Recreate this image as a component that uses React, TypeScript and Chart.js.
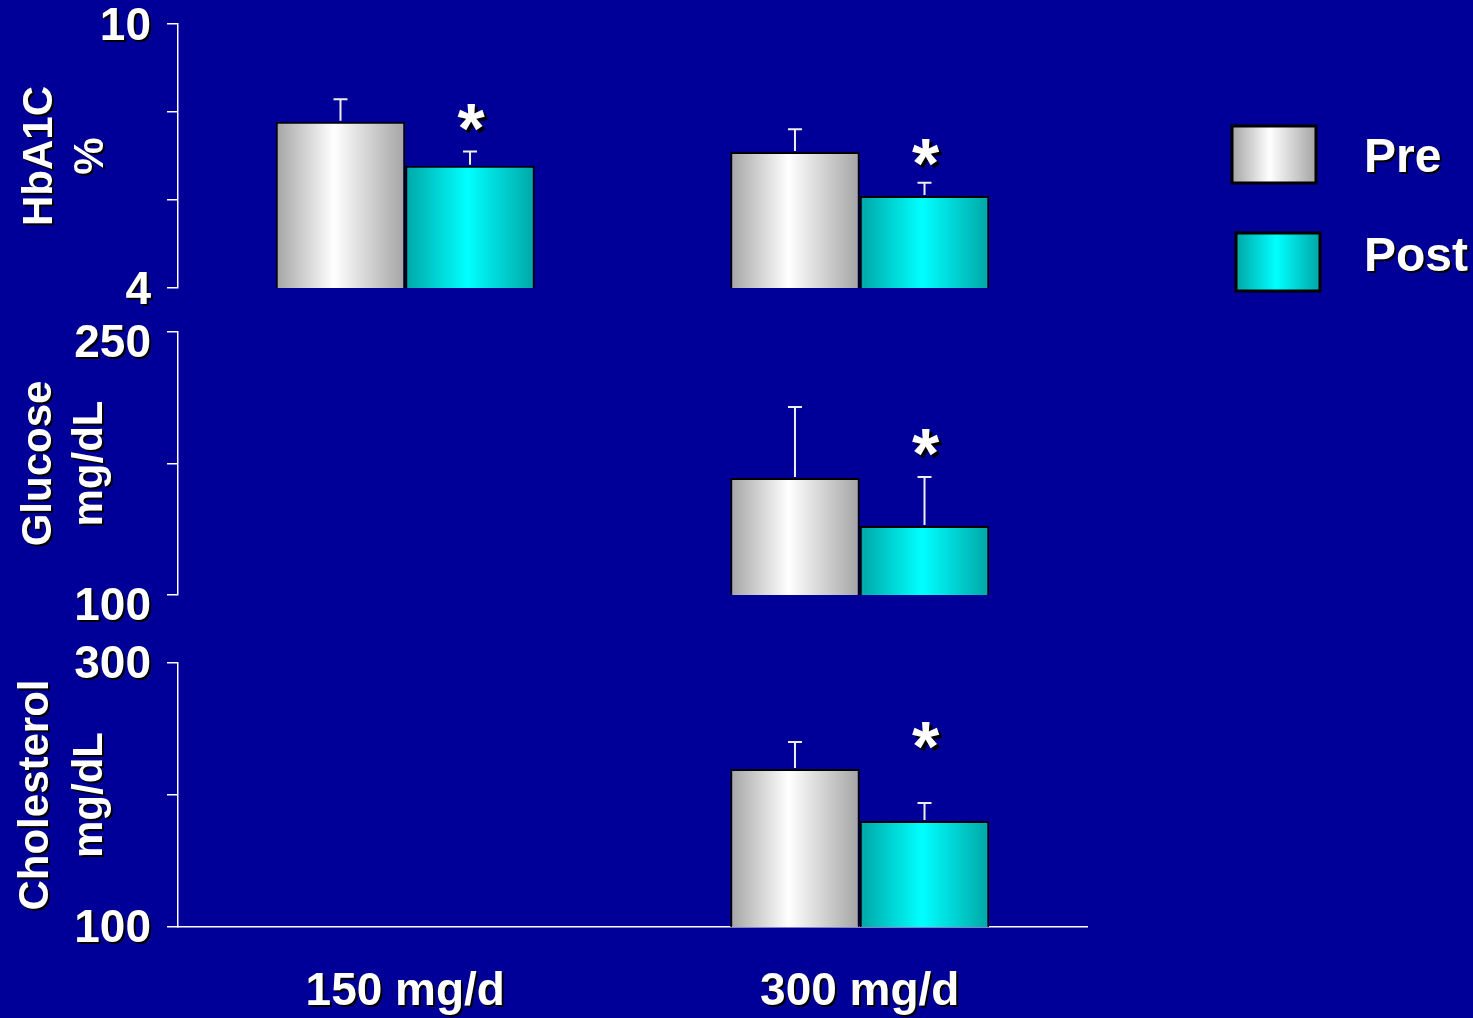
import React, { useEffect, useRef } from 'react';
import { Chart, registerables } from 'chart.js';

Chart.register(...registerables);

// ---------------- DATA ----------------
const categories = ['150 mg/d', '300 mg/d'];
const seriesNames = ['Pre', 'Post'];

const hbPre = [7.78, 7.09];
const hbPreSd = [0.51, 0.52];
const hbPost = [6.78, 6.09];
const hbPostSd = [0.32, 0.3];
const hbStar = [7.9, 7.09];

const gluPre = [null, 166.7];
const gluPreSd = [null, 40.5];
const gluPost = [null, 139.4];
const gluPostSd = [null, 27.9];
const gluStar = [null, 187.5];

const cholPre = [null, 219.7];
const cholPreSd = [null, 20.5];
const cholPost = [null, 180.3];
const cholPostSd = [null, 13.6];
const cholStar = [null, 245.5];

const hbTicks = [4, 10];
const gluTicks = [100, 250];
const cholTicks = [100, 300];

const hbTitle = ['HbA1C', '%'];
const gluTitle = ['Glucose', 'mg/dL'];
const cholTitle = ['Cholesterol', 'mg/dL'];

// ---------------- STYLE ----------------
const FONT = "'Liberation Sans', Arial, Helvetica, sans-serif";
const BG = '#000099';
const CAT_PCT = 0.57;

function addStops(g: CanvasGradient, kind: string) {
  if (kind === 'pre') {
    g.addColorStop(0, '#a4a4a4');
    g.addColorStop(0.45, '#ffffff');
    g.addColorStop(1, '#a4a4a4');
  } else {
    g.addColorStop(0, '#00a6a6');
    g.addColorStop(0.48, '#00ffff');
    g.addColorStop(1, '#00a6a6');
  }
  return g;
}

const gradientFill = (kind: string) => (c: any) => {
  const chart = c.chart;
  const xs = chart.scales && chart.scales.x;
  if (!xs || c.dataIndex === undefined || !isFinite(xs.getPixelForValue(0))) {
    return kind === 'pre' ? '#dddddd' : '#00dddd';
  }
  const n = xs.getLabels().length;
  const catW = xs.width / n;
  const barW = (catW * CAT_PCT) / 2;
  const center = xs.getPixelForValue(c.dataIndex);
  const left = kind === 'pre' ? center - barW : center;
  const g = chart.ctx.createLinearGradient(left, 0, left + barW, 0);
  return addStops(g, kind);
};

const textShadowPlugin = {
  id: 'textShadow',
  beforeDraw(chart: any) {
    Object.values(chart.scales).forEach((s: any) => {
      if (s.__shadowed) return;
      s.__shadowed = true;
      const dl = s.drawLabels.bind(s);
      const dt = s.drawTitle.bind(s);
      const wrap = (fn: any) => (...args: any[]) => {
        const ctx = s.ctx;
        ctx.save();
        ctx.shadowColor = '#000000';
        ctx.shadowOffsetX = 2;
        ctx.shadowOffsetY = 2;
        ctx.shadowBlur = 0;
        fn(...args);
        ctx.restore();
      };
      s.drawLabels = wrap(dl);
      s.drawTitle = wrap(dt);
    });
  },
};

const errorBarPlugin = {
  id: 'errorBars',
  afterDatasetsDraw(chart: any) {
    const ctx = chart.ctx;
    const ys = chart.scales.y;
    chart.data.datasets.forEach((ds: any, di: number) => {
      const meta = chart.getDatasetMeta(di);
      meta.data.forEach((bar: any, i: number) => {
        const v = ds.data[i];
        const e = ds.sd ? ds.sd[i] : null;
        if (v == null || e == null) return;
        const base = ys.getPixelForValue(v);
        const top = ys.getPixelForValue(v + e);
        ctx.save();
        ctx.strokeStyle = '#eeeeee';
        ctx.lineWidth = 2;
        ctx.beginPath();
        ctx.moveTo(bar.x, base - 1);
        ctx.lineTo(bar.x, top);
        ctx.moveTo(bar.x - 7, top);
        ctx.lineTo(bar.x + 7, top);
        ctx.stroke();
        ctx.restore();
      });
    });
  },
};

const STAR_SIZE = 70;
const starPlugin = {
  id: 'stars',
  afterDatasetsDraw(chart: any) {
    const ctx = chart.ctx;
    const ys = chart.scales.y;
    chart.data.datasets.forEach((ds: any, di: number) => {
      if (!ds.stars) return;
      const meta = chart.getDatasetMeta(di);
      meta.data.forEach((bar: any, i: number) => {
        const s = ds.stars[i];
        if (s == null) return;
        const yc = ys.getPixelForValue(s);
        ctx.save();
        ctx.font = `bold ${STAR_SIZE}px ${FONT}`;
        ctx.fillStyle = '#ffffff';
        ctx.textAlign = 'center';
        ctx.textBaseline = 'alphabetic';
        ctx.shadowColor = '#000000';
        ctx.shadowOffsetX = 3;
        ctx.shadowOffsetY = 3;
        ctx.shadowBlur = 0;
        ctx.fillText('*', bar.x + 1, yc + STAR_SIZE * 0.52);
        ctx.restore();
      });
    });
  },
};

// legend geometry in page coordinates
const legendBoxes = [
  { x: 1232, y: 126, w: 84, h: 57, kind: 'pre', tx: 1364, ty: 172 },
  { x: 1236, y: 233, w: 84, h: 58, kind: 'post', tx: 1364, ty: 271 },
];

const makeLegendPlugin = (offsetTop: number) => ({
  id: 'customLegend',
  afterDraw(chart: any) {
    const ctx = chart.ctx;
    legendBoxes.forEach((b, i) => {
      const label = chart.data.datasets[i].label;
      const by = b.y - offsetTop;
      ctx.save();
      const g = ctx.createLinearGradient(b.x, 0, b.x + b.w, 0);
      ctx.fillStyle = addStops(g, b.kind);
      ctx.fillRect(b.x, by, b.w, b.h);
      ctx.strokeStyle = '#000000';
      ctx.lineWidth = 3;
      ctx.strokeRect(b.x, by, b.w, b.h);
      ctx.font = `bold 48px ${FONT}`;
      ctx.fillStyle = '#ffffff';
      ctx.textAlign = 'left';
      ctx.textBaseline = 'alphabetic';
      ctx.shadowColor = '#000000';
      ctx.shadowOffsetX = 2;
      ctx.shadowOffsetY = 2;
      ctx.shadowBlur = 0;
      ctx.fillText(label, b.tx, b.ty - offsetTop);
      ctx.restore();
    });
  },
});

type PanelCfg = {
  key: string;
  title: string[];
  pre: (number | null)[];
  preSd: (number | null)[];
  post: (number | null)[];
  postSd: (number | null)[];
  stars: (number | null)[];
  ticks: number[];
  step: number;
  top: number;
  height: number;
  padTop: number;
  padBottom: number;
  titlePad: number;
  titleLH: number;
  labelOffset: number;
  showX: boolean;
  legend: boolean;
};

// plot areas: 24-288, 332-595, 663-927 (page px)
const panels: PanelCfg[] = [
  {
    key: 'hb', title: hbTitle, pre: hbPre, preSd: hbPreSd, post: hbPost, postSd: hbPostSd,
    stars: hbStar, ticks: hbTicks, step: 2, top: -20, height: 360, padTop: 44, padBottom: 52,
    titlePad: 15, titleLH: 1.22, labelOffset: 3, showX: false, legend: true,
  },
  {
    key: 'glu', title: gluTitle, pre: gluPre, preSd: gluPreSd, post: gluPost, postSd: gluPostSd,
    stars: gluStar, ticks: gluTicks, step: 75, top: 290, height: 350, padTop: 42, padBottom: 45,
    titlePad: 14, titleLH: 1.22, labelOffset: 12, showX: false, legend: false,
  },
  {
    key: 'chol', title: cholTitle, pre: cholPre, preSd: cholPreSd, post: cholPost, postSd: cholPostSd,
    stars: cholStar, ticks: cholTicks, step: 100, top: 620, height: 398, padTop: 43, padBottom: 0,
    titlePad: 9, titleLH: 1.3, labelOffset: 2, showX: true, legend: false,
  },
];

function Panel({ cfg }: { cfg: PanelCfg }) {
  const ref = useRef<HTMLCanvasElement | null>(null);
  useEffect(() => {
    if (!ref.current) return;
    const plugins: any[] = [textShadowPlugin, errorBarPlugin, starPlugin];
    if (cfg.legend) plugins.push(makeLegendPlugin(cfg.top));
    const chart = new Chart(ref.current, {
      type: 'bar',
      data: {
        labels: categories,
        datasets: [
          {
            label: seriesNames[0],
            data: cfg.pre,
            sd: cfg.preSd,
            backgroundColor: gradientFill('pre'),
            borderColor: '#000000',
            borderWidth: 2,
            categoryPercentage: CAT_PCT,
            barPercentage: 1,
          } as any,
          {
            label: seriesNames[1],
            data: cfg.post,
            sd: cfg.postSd,
            stars: cfg.stars,
            backgroundColor: gradientFill('post'),
            borderColor: '#000000',
            borderWidth: 2,
            categoryPercentage: CAT_PCT,
            barPercentage: 1,
          } as any,
        ],
      },
      options: {
        responsive: false,
        animation: false,
        devicePixelRatio: 1,
        layout: { padding: { left: 0, right: 386, top: cfg.padTop, bottom: cfg.padBottom } },
        plugins: { legend: { display: false }, tooltip: { enabled: false } },
        scales: {
          x: {
            display: cfg.showX,
            grid: { display: true, drawOnChartArea: false, drawTicks: false },
            border: { display: true, color: '#ffffff', width: 1.5 },
            ticks: {
              color: '#ffffff',
              padding: 42,
              font: { family: FONT, size: 46, weight: 'bold', lineHeight: 1 },
            },
            afterFit: (s: any) => { s.height = cfg.showX ? 91 : 0; },
          },
          y: {
            min: cfg.ticks[0],
            max: cfg.ticks[cfg.ticks.length - 1],
            stacked: false,
            ticks: {
              stepSize: cfg.step,
              autoSkip: false,
              color: '#ffffff',
              padding: 16,
              labelOffset: cfg.labelOffset,
              font: { family: FONT, size: 46, weight: 'bold', lineHeight: 1 },
              callback: (v: any) => (cfg.ticks.includes(Number(v)) ? String(v) : ''),
            },
            grid: {
              display: true, drawOnChartArea: false, drawTicks: true, tickLength: 11,
              color: '#ffffff', lineWidth: 1.5,
            },
            border: { display: true, color: '#ffffff', width: 1.5 },
            title: {
              display: true,
              text: cfg.title,
              color: '#ffffff',
              font: { family: FONT, size: 42, weight: 'bold', lineHeight: cfg.titleLH },
              padding: { top: cfg.titlePad, bottom: 0 },
            },
            afterFit: (s: any) => { s.width = 178; },
          },
        },
      } as any,
      plugins,
    });
    return () => chart.destroy();
  }, []);
  return (
    <canvas
      ref={ref}
      width={1473}
      height={cfg.height}
      style={{ position: 'absolute', left: 0, top: cfg.top, width: 1473, height: cfg.height }}
    />
  );
}

export default function App() {
  return (
    <div
      style={{
        position: 'absolute', left: 0, top: 0, width: 1473, height: 1018,
        background: BG, overflow: 'hidden',
      }}
    >
      {panels.map((p) => (
        <Panel key={p.key} cfg={p} />
      ))}
    </div>
  );
}
